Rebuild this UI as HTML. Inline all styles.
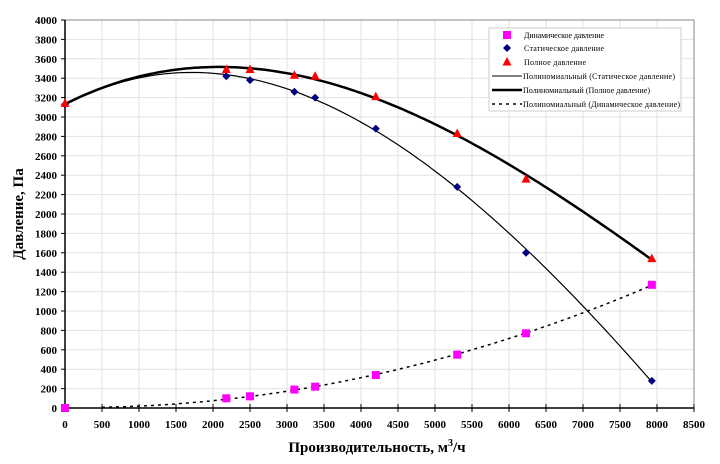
<!DOCTYPE html>
<html><head><meta charset="utf-8"><style>
body{margin:0;background:#fff;}
svg{display:block;font-family:"Liberation Serif",serif;}
</style></head><body>
<svg id="s" width="720" height="464" xmlns="http://www.w3.org/2000/svg"></svg>
<script>
const s=document.getElementById('s');
const X0=65,XS=0.0740,Y0=408,YS=0.097;
const px=x=>X0+x*XS, py=y=>Y0-y*YS;
let h='';
for(let x=500;x<=8500;x+=500)h+=`<line x1="${px(x)}" y1="20" x2="${px(x)}" y2="408" stroke="#e2e2e2" stroke-width="1"/>`;
for(let y=200;y<=4000;y+=200)h+=`<line x1="65" y1="${py(y)}" x2="694" y2="${py(y)}" stroke="#e2e2e2" stroke-width="1"/>`;
h+=`<rect x="65" y="20" width="629" height="388" fill="none" stroke="#888" stroke-width="1"/>`;
h+=`<line x1="65" y1="20" x2="65" y2="408" stroke="#000" stroke-width="1.5"/><line x1="65" y1="408" x2="694" y2="408" stroke="#000" stroke-width="1.5"/>`;
for(let y=0;y<=4000;y+=200){h+=`<line x1="61" y1="${py(y)}" x2="65" y2="${py(y)}" stroke="#000"/><text x="57" y="${py(y)+4}" text-anchor="end" font-size="11" font-weight="bold">${y}</text>`;}
for(let x=0;x<=8500;x+=500){h+=`<line x1="${px(x)}" y1="404" x2="${px(x)}" y2="412" stroke="#000"/><text x="${px(x)}" y="428" text-anchor="middle" font-size="11" font-weight="bold">${x}</text>`;}
h+=`<text x="377" y="452" text-anchor="middle" font-size="15" font-weight="bold">Производительность, м<tspan dy="-6" font-size="10">3</tspan><tspan dy="6">/ч</tspan></text>`;
h+=`<text transform="translate(23,214) rotate(-90)" text-anchor="middle" font-size="15" font-weight="bold">Давление, Па</text>`;
const st=[[0,3130],[2180,3420],[2500,3380],[3100,3260],[3380,3200],[4200,2880],[5300,2280],[6230,1600],[7930,280]];
const fu=[[0,3140],[2180,3490],[2500,3490],[3100,3430],[3380,3420],[4200,3210],[5300,2830],[6230,2360],[7930,1540]];
const dy=[[0,0],[2180,100],[2500,120],[3100,190],[3380,220],[4200,340],[5300,550],[6230,770],[7930,1270]];
function fit(p,d){const n=d+1;const A=[];for(let i=0;i<n;i++){A.push(new Array(n+1).fill(0));}
for(const [x0,y] of p){const x=x0/1000;for(let i=0;i<n;i++){for(let j=0;j<n;j++)A[i][j]+=Math.pow(x,i+j);A[i][n]+=y*Math.pow(x,i);}}
for(let i=0;i<n;i++){let m=i;for(let k=i+1;k<n;k++)if(Math.abs(A[k][i])>Math.abs(A[m][i]))m=k;[A[i],A[m]]=[A[m],A[i]];for(let k=0;k<n;k++)if(k!=i){const f=A[k][i]/A[i][i];for(let j=i;j<=n;j++)A[k][j]-=f*A[i][j];}}
return A.map((r,i)=>r[n]/r[i]);}
function curve(c,a,b){let pts=[];for(let x=a;x<=b;x+=50){let y=0;c.forEach((v,i)=>y+=v*Math.pow(x/1000,i));pts.push(px(x).toFixed(1)+','+py(y).toFixed(1));}return pts.join(' ');}
h+=`<polyline points="${curve(fit(st,3),0,7930)}" fill="none" stroke="#000" stroke-width="1.2"/>`;
h+=`<polyline points="${curve(fit(fu,3),0,7930)}" fill="none" stroke="#000" stroke-width="2.5"/>`;
h+=`<polyline points="${curve(fit(dy,2),500,7930)}" fill="none" stroke="#000" stroke-width="1.5" stroke-dasharray="3,4"/>`;
const sq=(x,y)=>`<rect x="${x-4}" y="${y-4}" width="8" height="8" fill="#ff00ff"/>`;
const di=(x,y)=>`<polygon points="${x},${y-4} ${x+4},${y} ${x},${y+4} ${x-4},${y}" fill="#000080"/>`;
const tr=(x,y)=>`<polygon points="${x},${y-5} ${x+4.5},${y+3.5} ${x-4.5},${y+3.5}" fill="#ff0000"/>`;
dy.forEach(p=>h+=sq(px(p[0]),py(p[1])));
st.forEach(p=>h+=di(px(p[0]),py(p[1])));
fu.forEach(p=>h+=tr(px(p[0]),py(p[1])));
h+=`<rect x="489" y="28" width="192" height="83" fill="#fff" stroke="#ccc"/>`;
const L=[35,48,62,76,90,104];
const t=['Динамическое давление','Статическое давление','Полное давление','Полиномиальный (Статическое давление)','Полиномиальный (Полное давление)','Полиномиальный (Динамическое давление)'];
h+=sq(507,L[0])+di(507,L[1])+tr(507,L[2]);
h+=`<line x1="492" y1="${L[3]}" x2="522" y2="${L[3]}" stroke="#000" stroke-width="1"/>`;
h+=`<line x1="492" y1="${L[4]}" x2="522" y2="${L[4]}" stroke="#000" stroke-width="2.5"/>`;
h+=`<line x1="492" y1="${L[5]}" x2="522" y2="${L[5]}" stroke="#000" stroke-width="1.5" stroke-dasharray="3,4"/>`;
t.forEach((s2,i)=>h+=`<text x="${i<3?524:523}" y="${L[i]+3}" font-size="8" textLength="${[80,80,62,152,127,157][i]}">${s2}</text>`);
s.innerHTML=h;
</script>
</body></html>
